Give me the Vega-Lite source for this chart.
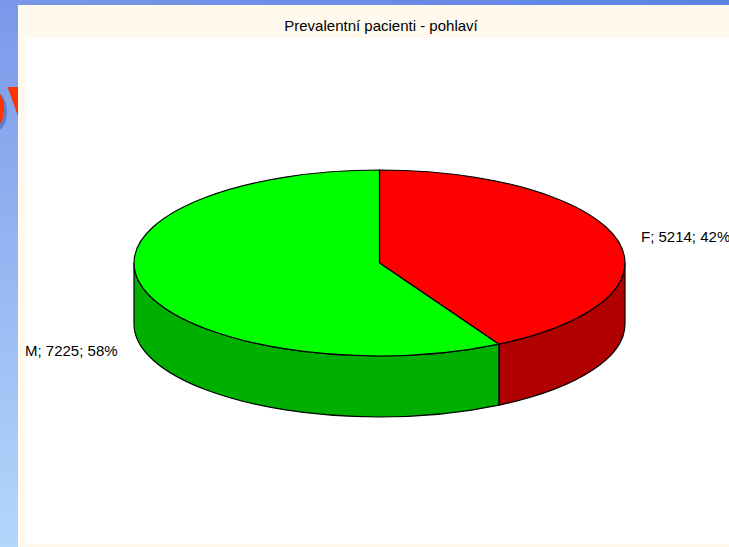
{
  "$schema": "https://vega.github.io/schema/vega-lite/v6.json",
  "width": 729,
  "height": 547,
  "padding": 0,
  "autosize": {"type": "none"},
  "background": "#ffffff",
  "config": {"view": {"stroke": null}},
  "datasets": {
    "slices": [
      {"sex": "F", "count": 5214, "share": 42, "label": "F; 5214; 42%"},
      {"sex": "M", "count": 7225, "share": 58, "label": "M; 7225; 58%"}
    ],
    "one": [{"part": "decor"}]
  },
  "encoding": {
    "x": {"datum": 0, "type": "quantitative", "scale": {"domain": [0, 729], "nice": false, "zero": false}, "axis": null},
    "y": {"datum": 0, "type": "quantitative", "scale": {"domain": [0, 547], "nice": false, "zero": false, "reverse": true}, "axis": null}
  },
  "layer": [
    {
      "data": {"name": "one"},
      "mark": {"type": "rect", "fill": {"gradient": "linear", "x1": 0, "y1": 0, "x2": 0, "y2": 1, "stops": [{"offset": 0, "color": "#7a98ea"}, {"offset": 1, "color": "#b3d7fb"}]}},
      "encoding": {"x": {"datum": 0}, "x2": {"datum": 18}, "y": {"datum": 0}, "y2": {"datum": 547}}
    },
    {
      "data": {"name": "one"},
      "mark": {"type": "rect", "fill": {"gradient": "linear", "x1": 0, "y1": 0, "x2": 1, "y2": 0, "stops": [{"offset": 0, "color": "#7a98ea"}, {"offset": 1, "color": "#5c82e4"}]}},
      "encoding": {"x": {"datum": 0}, "x2": {"datum": 729}, "y": {"datum": 0}, "y2": {"datum": 5}}
    },
    {
      "data": {"name": "one"},
      "mark": {"type": "text", "text": "ov", "font": "Liberation Sans", "fontWeight": "bold", "fontSize": 84, "align": "right", "baseline": "alphabetic", "fill": "#3a4f90", "opacity": 0.45},
      "encoding": {"x": {"datum": 57}, "y": {"datum": 134}}
    },
    {
      "data": {"name": "one"},
      "mark": {"type": "text", "text": "ov", "font": "Liberation Sans", "fontWeight": "bold", "fontSize": 84, "align": "right", "baseline": "alphabetic", "fill": "#ff3300"},
      "encoding": {"x": {"datum": 54}, "y": {"datum": 131}}
    },
    {
      "data": {"name": "one"},
      "mark": {"type": "rect", "fill": "#fff9ee"},
      "encoding": {"x": {"datum": 18}, "x2": {"datum": 729}, "y": {"datum": 5}, "y2": {"datum": 547}}
    },
    {
      "data": {"name": "one"},
      "mark": {"type": "rect", "fill": "#ffffff"},
      "encoding": {"x": {"datum": 25}, "x2": {"datum": 729}, "y": {"datum": 38}, "y2": {"datum": 544}}
    },
    {
      "data": {"name": "one"},
      "mark": {"type": "text", "text": "Prevalentní pacienti - pohlaví", "font": "Liberation Sans", "fontSize": 15, "align": "center", "baseline": "middle", "fill": "#000000"},
      "encoding": {"x": {"datum": 381}, "y": {"datum": 26}}
    },
    {
      "data": {"name": "slices"},
      "mark": {"type": "point", "filled": true, "size": 4, "opacity": 1, "stroke": "#000000", "strokeWidth": 1.2},
      "encoding": {
        "x": {"datum": 379.5},
        "y": {"datum": 263},
        "shape": {"field": "sex", "type": "nominal", "legend": null, "scale": {"domain": ["F", "M"], "range": [
          "M245.5,0 L245.5,61 C245.5,94.75 197.2,125.8 119.4,142.2 L119.4,81.2 C197.2,64.8 245.5,33.75 245.5,0 Z",
          "M119.4,81.2 L119.4,142.2 C82.9,149.9 41.8,154 0,154 C-135.6,154 -245.5,112.4 -245.5,61 L-245.5,0 C-245.5,51.4 -135.6,93 0,93 C41.8,93 82.9,88.9 119.4,81.2 Z"
        ]}},
        "color": {"field": "sex", "type": "nominal", "legend": null, "scale": {"domain": ["F", "M"], "range": ["#b00000", "#00b000"]}}
      }
    },
    {
      "data": {"name": "slices"},
      "mark": {"type": "point", "filled": true, "size": 4, "opacity": 1, "stroke": "#000000", "strokeWidth": 1.2},
      "encoding": {
        "x": {"datum": 379.5},
        "y": {"datum": 263},
        "shape": {"field": "sex", "type": "nominal", "legend": null, "scale": {"domain": ["F", "M"], "range": [
          "M0,0 L0,-93 C135.6,-93 245.5,-51.4 245.5,0 C245.5,33.75 197.2,64.8 119.4,81.2 Z",
          "M0,0 L119.4,81.2 C82.9,88.9 41.8,93 0,93 C-135.6,93 -245.5,51.4 -245.5,0 C-245.5,-51.4 -135.6,-93 0,-93 Z"
        ]}},
        "color": {"field": "sex", "type": "nominal", "legend": null, "scale": {"domain": ["F", "M"], "range": ["#ff0000", "#00ff00"]}}
      }
    },
    {
      "data": {"name": "slices"},
      "transform": [{"filter": "datum.sex === 'F'"}],
      "mark": {"type": "text", "font": "Liberation Sans", "fontSize": 15, "align": "left", "baseline": "middle", "fill": "#000000"},
      "encoding": {"x": {"datum": 641}, "y": {"datum": 236.5}, "text": {"field": "label"}}
    },
    {
      "data": {"name": "slices"},
      "transform": [{"filter": "datum.sex === 'M'"}],
      "mark": {"type": "text", "font": "Liberation Sans", "fontSize": 15, "align": "left", "baseline": "middle", "fill": "#000000"},
      "encoding": {"x": {"datum": 25}, "y": {"datum": 350.5}, "text": {"field": "label"}}
    }
  ],
  "resolve": {"scale": {"color": "independent", "shape": "independent"}}
}
